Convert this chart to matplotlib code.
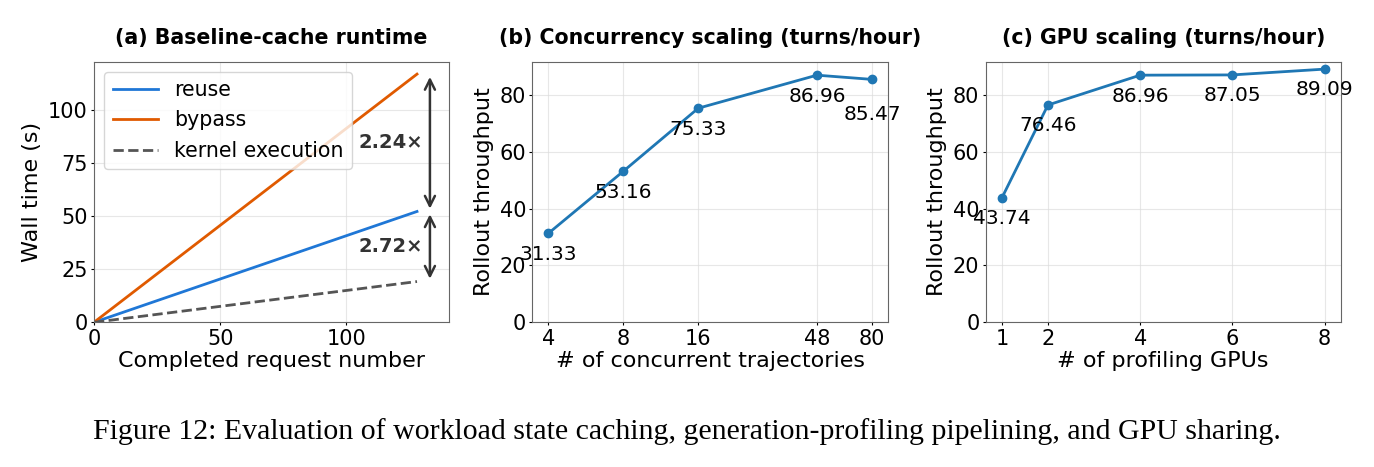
import matplotlib
matplotlib.use("Agg")
import matplotlib.pyplot as plt
import numpy as np

# ---- data ----
requests = [0, 128]
reuse = [0, 52.2]
bypass = [0, 116.9]
kernel = [0, 19.2]
ratio_labels = ["2.24×", "2.72×"]

traj = [4, 8, 16, 48, 80]
tput_traj = [31.33, 53.16, 75.33, 86.96, 85.47]

gpus = [1, 2, 4, 6, 8]
tput_gpu = [43.74, 76.46, 86.96, 87.05, 89.09]

titles = ["(a) Baseline-cache runtime",
          "(b) Concurrency scaling (turns/hour)",
          "(c) GPU scaling (turns/hour)"]
caption = ("Figure 12: Evaluation of workload state caching, "
           "generation-profiling pipelining, and GPU sharing.")

plt.rcParams['font.family'] = ['DejaVu Sans']
TICK = 15
LAB = 16
TIT = 14.8
ANN = 14.5
LEG = 14.8
RAT = 14

fig = plt.figure(figsize=(13.74, 4.67), dpi=100)
H = 467.0; W = 1374.0
bottom = 1 - 322.3 / H
height = (322.3 - 61.7) / H
axa = fig.add_axes([94 / W, bottom, 355.3 / W, height])
axb = fig.add_axes([532.3 / W, bottom, 356 / W, height])
axc = fig.add_axes([985.7 / W, bottom, 355 / W, height])

def style(ax):
    for s in ax.spines.values():
        s.set_color('#666666')
    ax.grid(True, color='#dddddd', linewidth=0.8, alpha=0.7)
    ax.set_axisbelow(True)
    ax.tick_params(labelsize=TICK, length=2, width=0.8, pad=2.5)

# ---- (a) ----
blue_a = '#1f77d6'
orange_a = '#e05a00'
axa.plot(requests, reuse, color=blue_a, lw=2, label='reuse')
axa.plot(requests, bypass, color=orange_a, lw=2, label='bypass')
axa.plot(requests, kernel, color='#555555', lw=2, ls='--', label='kernel execution')
axa.set_xlim(0, requests[-1] * 1.1)
axa.set_ylim(0, bypass[-1] * 1.05)
axa.set_xticks([0, 50, 100])
axa.set_yticks([0, 25, 50, 75, 100])
style(axa)
axa.set_xlabel('Completed request number', fontsize=LAB, labelpad=2)
axa.set_ylabel('Wall time (s)', fontsize=LAB)
axa.legend(loc='upper left', fontsize=LEG, handlelength=2.2)
xa = requests[-1] * 1.04
pairs = [(bypass[-1], reuse[-1]), (reuse[-1], kernel[-1])]
for (hi, lo), lab in zip(pairs, ratio_labels):
    axa.annotate('', xy=(xa, lo), xytext=(xa, hi),
                 arrowprops=dict(arrowstyle='<->', color='#333333', lw=1.8,
                                 shrinkA=2, shrinkB=2, mutation_scale=18))
    axa.text(requests[-1] * 1.02, (hi + lo) / 2, lab, ha='right', va='center',
             fontsize=RAT, fontweight='bold', color='#333333')
axa.set_title(titles[0], fontsize=TIT, fontweight='bold', pad=13)

# ---- (b) ----
line_c = '#1f77b4'
axb.plot(traj, tput_traj, color=line_c, lw=2, marker='o', ms=6)
axb.set_xscale('log', base=2)
axb.set_xticks(traj)
axb.set_xticklabels([str(t) for t in traj])
axb.minorticks_off()
axb.set_ylim(0, 91.7)
axb.set_yticks([0, 20, 40, 60, 80])
style(axb)
offs_b = [-15, -15, -15, -15, -25]
for x, y, o in zip(traj, tput_traj, offs_b):
    axb.annotate(f'{y:.2f}', xy=(x, y), xytext=(0, o), textcoords='offset points',
                 ha='center', va='center', fontsize=ANN)
axb.set_xlabel('# of concurrent trajectories', fontsize=LAB, labelpad=2)
axb.set_ylabel('Rollout throughput', fontsize=LAB)
axb.set_title(titles[1], fontsize=TIT, fontweight='bold', pad=13)

# ---- (c) ----
axc.plot(gpus, tput_gpu, color=line_c, lw=2, marker='o', ms=6)
axc.set_xticks(gpus)
axc.set_ylim(0, 91.7)
axc.set_yticks([0, 20, 40, 60, 80])
style(axc)
for x, y in zip(gpus, tput_gpu):
    axc.annotate(f'{y:.2f}', xy=(x, y), xytext=(0, -15), textcoords='offset points',
                 ha='center', va='center', fontsize=ANN)
axc.set_xlabel('# of profiling GPUs', fontsize=LAB, labelpad=2)
axc.set_ylabel('Rollout throughput', fontsize=LAB)
axc.set_title(titles[2], fontsize=TIT, fontweight='bold', pad=13)

fig.text(0.5, 1 - 432 / H, caption, ha='center', va='center',
         fontsize=21.5, family=['Liberation Serif', 'DejaVu Serif'])

fig.savefig('out.png', dpi=100)
